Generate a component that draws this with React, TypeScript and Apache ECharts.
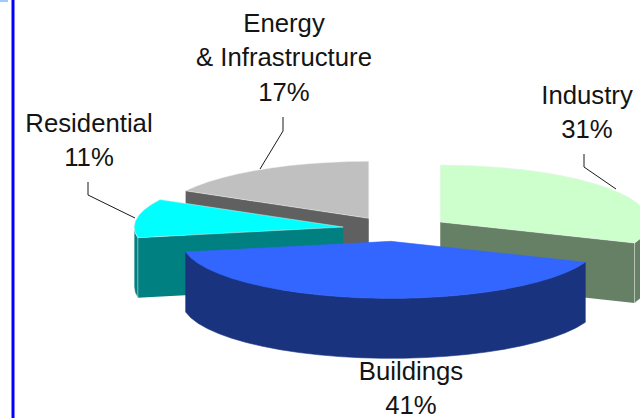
import React, { useEffect, useRef } from "react";
import * as echarts from "echarts";

// Share of the total for each sector, in clockwise pie order from 12 o'clock.
const sectors = ["Industry", "Buildings", "Residential", "Energy\n& Infrastructure"];
const shares = [31, 41, 11, 17];

const topColors = ["#CCFFCC", "#3366FF", "#00FFFF", "#C0C0C0"];
const sideColors = ["#668066", "#19337F", "#008080", "#606060"];

// Back-to-front painting rank of each wedge.
const paintRank = [1, 3, 2, 0];

// Centre of the first line of each wedge's label.
const labelCenters = [
  [587, 95],
  [411, 371],
  [89, 123],
  [284, 23],
];
const leaderLines = [
  [[584, 154], [584, 167], [616, 189]],
  [],
  [[88, 182], [88, 195], [135, 218]],
  [[283, 117], [283, 131], [260, 169]],
];

// Projection of the tilted, exploded pie.
const CX = 396;
const CY = 229;
const RX = 209;
const RY = 57;
const DEPTH = 60;
const EXPLODE_X = 53.5;
const EXPLODE_Y = 12.4;
const ARC_STEP = 6;
const LABEL_LINE_STEP = 34.5;

const rad = (deg: number) => (deg * Math.PI) / 180;

function arcPoints(ox: number, oy: number, from: number, to: number, dy = 0) {
  const pts: number[][] = [];
  const n = Math.max(1, Math.ceil((to - from) / ARC_STEP));
  for (let i = 0; i <= n; i++) {
    const a = rad(from + ((to - from) * i) / n);
    pts.push([ox + RX * Math.sin(a), oy - RY * Math.cos(a) + dy]);
  }
  return pts;
}

function renderWedge(_params: any, api: any) {
  const idx = api.value(1);
  const total = shares.reduce((s, v) => s + v, 0);
  const before = shares.slice(0, idx).reduce((s, v) => s + v, 0);
  const start = (before / total) * 360;
  const end = ((before + api.value(0)) / total) * 360;
  const mid = rad((start + end) / 2);
  const ox = CX + EXPLODE_X * Math.sin(mid);
  const oy = CY - EXPLODE_Y * Math.cos(mid);
  const base = paintRank[idx] * 10;
  const top = topColors[idx];
  const side = sideColors[idx];
  const hairline = idx === 1 ? side : "rgba(235,240,235,0.8)";
  const children: any[] = [];

  const radialFace = (a: number) => {
    const p = arcPoints(ox, oy, a, a)[0];
    children.push({
      type: "polygon",
      z2: base + 1,
      shape: { points: [[ox, oy], p, [p[0], p[1] + DEPTH], [ox, oy + DEPTH]] },
      style: { fill: side },
    });
  };
  if (Math.sin(rad(start)) < -1e-6) radialFace(start);
  if (Math.sin(rad(end)) > 1e-6) radialFace(end);

  // Outer rim: only the part of the arc that faces the viewer.
  const rimFrom = Math.max(start, 90);
  const rimTo = Math.min(end, 270);
  if (rimTo > rimFrom) {
    const upper = arcPoints(ox, oy, rimFrom, rimTo);
    const lower = arcPoints(ox, oy, rimFrom, rimTo, DEPTH).reverse();
    children.push({
      type: "polygon",
      z2: base + 2,
      shape: { points: upper.concat(lower) },
      style: { fill: side, stroke: hairline, lineWidth: 0.6 },
    });
  }

  children.push({
    type: "polygon",
    z2: base + 3,
    shape: { points: [[ox, oy], ...arcPoints(ox, oy, start, end)] },
    style: { fill: top, stroke: idx === 1 ? top : hairline, lineWidth: 0.6 },
  });

  if (leaderLines[idx].length) {
    children.push({
      type: "polyline",
      z2: 60,
      shape: { points: leaderLines[idx] },
      style: { fill: "none", stroke: "#1a1a1a", lineWidth: 1 },
    });
  }

  // Each label line is its own text so the last one stays inside the canvas.
  const lines = [...sectors[idx].split("\n"), `${api.value(0)}%`];
  lines.forEach((line, i) => {
    children.push({
      type: "text",
      z2: 61,
      x: labelCenters[idx][0],
      y: labelCenters[idx][1] + i * LABEL_LINE_STEP,
      scaleX: 1.03,
      style: {
        text: line,
        x: 0,
        y: 0,
        align: "center",
        verticalAlign: "middle",
        font: '25px "Liberation Sans", Arial, sans-serif',
        lineHeight: 25,
        fill: "#141414",
      },
    });
  });

  return { type: "group", children };
}

export default function App() {
  const ref = useRef<HTMLDivElement>(null);

  useEffect(() => {
    document.body.style.margin = "0";
    const chart = echarts.init(ref.current!, undefined, { renderer: "svg" });
    chart.setOption({
      animation: false,
      backgroundColor: "#ffffff",
      xAxis: { show: false },
      yAxis: { show: false },
      grid: { left: 0, right: 0, top: 0, bottom: 0 },
      graphic: [
        { type: "rect", shape: { x: 11.5, y: 0, width: 3, height: 418 }, style: { fill: "#0000FF" } },
        { type: "rect", shape: { x: 0, y: 0, width: 8, height: 2 }, style: { fill: "#99CCFF" } },
      ],
      series: [
        {
          type: "custom",
          coordinateSystem: "none",
          renderItem: renderWedge,
          clip: false,
          silent: true,
          data: shares.map((v, i) => [v, i]),
        },
      ],
    });
    return () => chart.dispose();
  }, []);

  return <div ref={ref} style={{ position: "absolute", left: 0, top: 0, width: 640, height: 418 }} />;
}
